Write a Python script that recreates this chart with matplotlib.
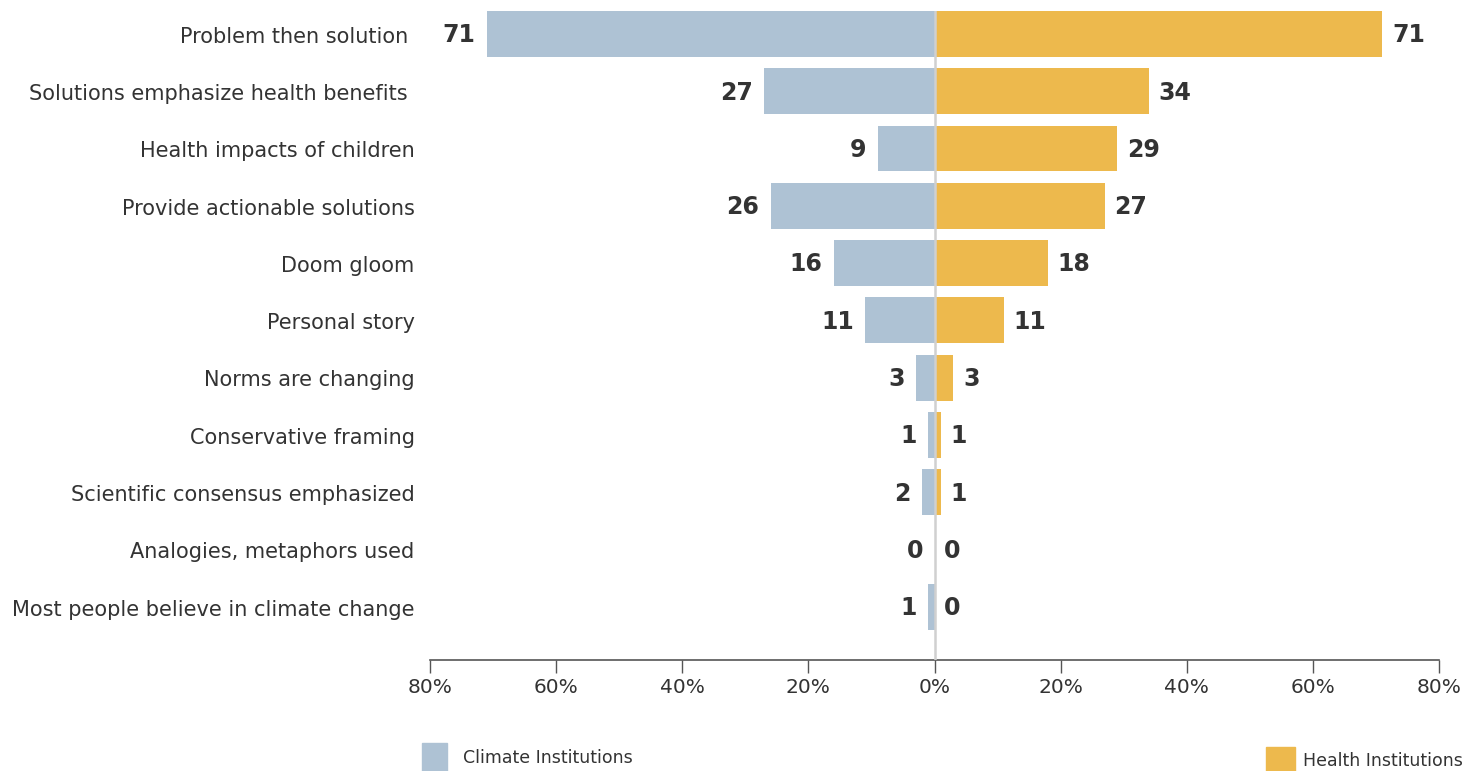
import matplotlib
matplotlib.use("Agg")
import matplotlib.pyplot as plt
from matplotlib.patches import Rectangle

categories = ["Problem then solution ", "Solutions emphasize health benefits ",
              "Health impacts of children", "Provide actionable solutions",
              "Doom gloom", "Personal story", "Norms are changing",
              "Conservative framing", "Scientific consensus emphasized",
              "Analogies, metaphors used", "Most people believe in climate change"]
climate = [71, 27, 9, 26, 16, 11, 3, 1, 2, 0, 1]
health = [71, 34, 29, 27, 18, 11, 3, 1, 1, 0, 0]
xticks = [-80, -60, -40, -20, 0, 20, 40, 60, 80]
xticklabels = ["80%", "60%", "40%", "20%", "0%", "20%", "40%", "60%", "80%"]
series_names = ["Climate Institutions", "Health Institutions"]

C_BLUE = "#aec2d4"
C_YEL = "#edb94d"
TXT = "#333333"

plt.rcParams['font.family'] = ['DejaVu Sans']

W, H = 1479, 771
fig = plt.figure(figsize=(W / 100, H / 100), dpi=100)
ax = fig.add_axes([430 / W, 1 - 660 / H, (1439 - 430) / W, (660 - 11) / H])

y = list(range(len(categories)))
ax.barh(y, [-v for v in climate], height=0.8, color=C_BLUE, zorder=2)
ax.barh(y, health, height=0.8, color=C_YEL, zorder=2)
ax.axvline(0, color="#d0d0d0", lw=1.8, zorder=3)

for i, (c, h) in enumerate(zip(climate, health)):
    ax.annotate(str(c), (-c, i), xytext=(-8, -1), textcoords="offset points",
                ha="right", va="center", fontsize=17, fontweight="bold", color=TXT)
    ax.annotate(str(h), (h, i), xytext=(7, -1), textcoords="offset points",
                ha="left", va="center", fontsize=17, fontweight="bold", color=TXT)
    ax.annotate(categories[i], (-80, i), xytext=(-11, -2), textcoords="offset points",
                ha="right", va="center", fontsize=15, color=TXT, annotation_clip=False)

ax.set_xlim(-80, 80)
ax.set_ylim(10.93, -0.4)
ax.set_yticks([])
ax.set_xticks(xticks)
ax.set_xticklabels(xticklabels, fontsize=14.5, color=TXT)
ax.tick_params(axis="x", length=9, width=1, color="#555555", pad=4)
for s in ["top", "right", "left"]:
    ax.spines[s].set_visible(False)
ax.spines["bottom"].set_color("#555555")
ax.spines["bottom"].set_linewidth(1.2)

# legend
fig.patches.append(Rectangle((422 / W, 0), 25 / W, 28 / H, transform=fig.transFigure,
                             color=C_BLUE, figure=fig))
fig.text(463 / W, 1 - 758 / H, series_names[0], fontsize=12.5, color=TXT, va="center")
fig.patches.append(Rectangle((1266 / W, 0), 29 / W, 24 / H, transform=fig.transFigure,
                             color=C_YEL, figure=fig))
fig.text(1303 / W, 1 - 761 / H, series_names[1], fontsize=12.5, color=TXT, va="center")

fig.savefig("out.png", dpi=100)
